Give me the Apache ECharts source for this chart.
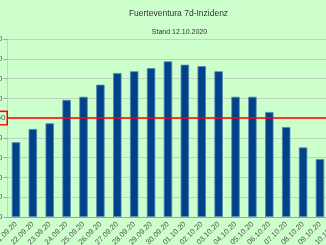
<!DOCTYPE html>
<html lang="de">
<head>
    <meta charset="UTF-8">
    <title>Fuerteventura 7d-Inzidenz</title>
    <script type="text/javascript" src="https://cdn.jsdelivr.net/npm/echarts@6/dist/echarts.min.js"></script>
    <style>
        html, body { margin: 0; padding: 0; background: #ccffcc; }
        #chart { width: 326px; height: 245px; }
    </style>
</head>
<body>
<div id="chart"></div>
<script type="text/javascript">
    var days = ['21.09.20', '22.09.20', '23.09.20', '24.09.20', '25.09.20', '26.09.20', '27.09.20',
        '28.09.20', '29.09.20', '30.09.20', '01.10.20', '02.10.20', '03.10.20', '04.10.20',
        '05.10.20', '06.10.20', '07.10.20', '08.10.20', '09.10.20', '10.10.20'];
    var incidence = [37.8, 44.5, 47.4, 59.2, 60.8, 66.9, 72.8, 73.7, 75.3, 78.7,
        77.0, 76.3, 73.7, 60.8, 60.8, 53.1, 45.5, 35.2, 29.3, 27.0];
    var threshold = 50;

    var chart = echarts.init(document.getElementById('chart'));
    // Diagramm-Optionen
    var option = {
        backgroundColor: '#ccffcc',
        animation: false,
        title: [{
            text: 'Fuerteventura 7d-Inzidenz',
            left: 173.5,
            top: 4,
            textAlign: 'center',
            textStyle: { fontSize: 8.5, fontWeight: 'normal', color: '#333', fontFamily: 'Liberation Sans' }
        }, {
            text: 'Stand 12.10.2020',
            left: 174.5,
            top: 23.5,
            textAlign: 'center',
            textStyle: { fontSize: 7, fontWeight: 'normal', color: '#333', fontFamily: 'Liberation Sans' }
        }],
        grid: { left: 7.5, right: -19.3, top: 39, bottom: 28, containLabel: false, outerBoundsMode: 'none' },
        xAxis: {
            type: 'category',
            data: days,
            axisLine: { lineStyle: { color: '#99aa99' } },
            axisTick: { length: 4, lineStyle: { color: '#99aa99' } },
            axisLabel: { rotate: 45, fontSize: 7.5, color: '#555', margin: 6, interval: 0, fontFamily: 'Liberation Sans' }
        },
        yAxis: {
            type: 'value',
            min: 0,
            max: 90,
            interval: 10,
            axisLine: { show: true, lineStyle: { color: '#bcd8bc' } },
            axisTick: { show: true, length: 4, lineStyle: { color: '#99aa99' } },
            axisLabel: { fontSize: 8, color: '#555', margin: 5, fontFamily: 'Liberation Sans' },
            splitLine: { lineStyle: { color: '#bcd8bc' } }
        },
        series: [{
            name: '7d-Inzidenz',
            type: 'bar',
            data: incidence,
            barWidth: '50%',
            itemStyle: { color: '#00428a', borderColor: '#5a88ba', borderWidth: 0.8 },
            markLine: {
                silent: true,
                symbol: 'none',
                lineStyle: { color: '#ff0000', width: 1.5, type: 'solid' },
                label: {
                    position: 'start',
                    distance: 1,
                    formatter: String(threshold),
                    fontSize: 8,
                    color: '#555',
                    backgroundColor: '#ccffcc',
                    borderColor: '#ff0000',
                    borderWidth: 1.5,
                    padding: [2, 1, 2, 1]
                },
                data: [{ yAxis: threshold }]
            }
        }]
    };
    chart.setOption(option);
</script>
</body>
</html>
